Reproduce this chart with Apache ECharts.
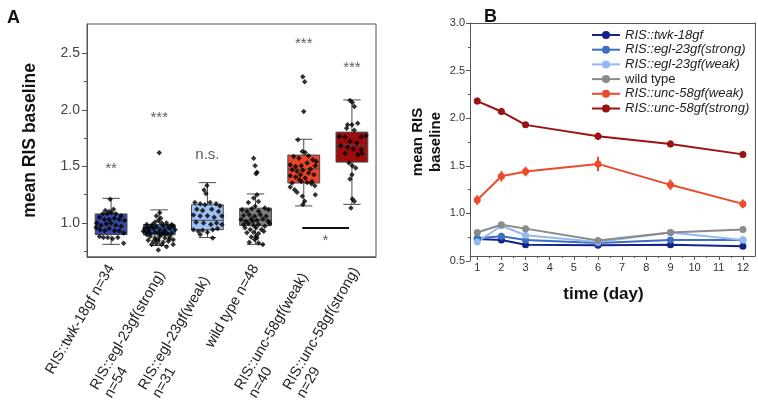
<!DOCTYPE html>
<html><head><meta charset="utf-8">
<script src="https://cdn.jsdelivr.net/npm/echarts@6/dist/echarts.min.js"></script>
<style>html,body{margin:0;padding:0;background:#fff}#c{width:758px;height:403px}</style>
</head><body><div id="c"></div>
<script>
// ---------- Panel A data ----------
const catLabels = ['RIS::twk-18gf n=34','RIS::egl-23gf(strong)\nn=54','RIS::egl-23gf(weak)\nn=31','wild type n=48','RIS::unc-58gf(weak)\nn=40','RIS::unc-58gf(strong)\nn=29'];
// [whisker low, Q1, median, Q3, whisker high]
const boxStats = [
  [0.81, 0.897, 0.97, 1.079, 1.217],
  [0.80, 0.894, 0.956, 0.985, 1.115],
  [0.87, 0.94, 1.023, 1.16, 1.356],
  [0.81, 0.976, 1.023, 1.13, 1.256],
  [1.15, 1.353, 1.477, 1.60, 1.74],
  [1.164, 1.538, 1.69, 1.803, 2.088]
];
// jittered points per group: [x offset within band, value]
const pts0 = [[-0.02,1.21],[-0.12,1.11],[-0.04,1.10],[0.05,1.12],[-0.17,1.08],[-0.08,1.08],[0.01,1.09],[0.10,1.08],[0.21,1.06],[-0.24,1.05],[-0.14,1.03],[-0.04,1.03],[0.07,1.04],[0.17,1.03],[0.28,1.02],[-0.30,1.00],[-0.21,0.98],[-0.10,0.99],[0.00,1.00],[0.10,0.98],[0.21,0.97],[-0.31,0.96],[-0.23,0.94],[-0.13,0.93],[-0.04,0.95],[0.07,0.93],[0.17,0.93],[0.26,0.91],[-0.24,0.88],[-0.16,0.87],[-0.07,0.87],[0.03,0.86],[0.14,0.87],[0.26,0.82]];
const pts1 = [[0.0,1.62],[0.01,1.09],[-0.06,1.06],[0.03,1.04],[-0.02,1.02],[-0.09,1.005],[0.05,1.0],[-0.26,0.985],[-0.16,0.97],[-0.06,0.965],[0.08,0.975],[0.19,0.965],[0.29,0.97],[-0.30,0.95],[-0.21,0.935],[-0.12,0.95],[0.01,0.94],[0.12,0.935],[0.22,0.95],[0.33,0.94],[-0.26,0.917],[-0.18,0.905],[-0.09,0.917],[-0.02,0.91],[0.08,0.917],[0.17,0.905],[0.26,0.91],[-0.19,0.88],[-0.09,0.867],[0.01,0.88],[0.12,0.867],[0.22,0.88],[0.29,0.85],[-0.23,0.846],[-0.12,0.837],[-0.02,0.846],[0.08,0.829],[0.19,0.837],[-0.16,0.808],[-0.06,0.817],[0.05,0.808],[0.29,0.808],[0.15,0.788],[-0.02,0.76],[-0.23,0.955],[-0.14,0.985],[0.15,1.0],[0.26,0.985],[-0.33,0.926],[-0.26,0.897],[0.05,0.897],[-0.06,0.852],[0.12,0.897],[0.21,0.858]];
const pts2 = [[-0.01,1.33],[-0.07,1.29],[-0.03,1.26],[-0.26,1.18],[-0.15,1.17],[-0.05,1.16],[0.055,1.18],[0.18,1.17],[0.26,1.15],[-0.22,1.12],[-0.10,1.11],[0.09,1.12],[0.23,1.10],[-0.29,1.07],[-0.15,1.06],[0.0,1.064],[0.14,1.05],[0.30,1.06],[-0.235,1.005],[-0.08,1.0],[0.07,0.985],[0.19,1.0],[0.30,0.985],[-0.29,0.94],[-0.19,0.926],[-0.10,0.935],[0.0,0.917],[0.11,0.94],[0.21,0.95],[-0.15,0.897],[0.11,0.867]];
const pts3 = [[-0.04,1.573],[-0.01,1.506],[0.03,1.447],[0.01,1.435],[0.03,1.25],[-0.04,1.22],[0.06,1.19],[-0.15,1.18],[-0.01,1.147],[-0.28,1.117],[-0.18,1.103],[-0.08,1.124],[0.06,1.103],[0.19,1.132],[0.27,1.117],[-0.25,1.065],[-0.13,1.073],[-0.02,1.059],[0.10,1.073],[0.22,1.059],[-0.30,1.029],[-0.20,1.015],[-0.09,1.035],[0.03,1.023],[0.15,1.035],[0.26,1.015],[-0.25,0.985],[-0.15,0.994],[-0.04,0.976],[0.06,0.985],[0.19,0.97],[0.29,0.994],[-0.22,0.956],[-0.11,0.941],[0.01,0.956],[0.12,0.941],[-0.18,0.912],[-0.04,0.918],[0.06,0.906],[0.17,0.926],[-0.09,0.876],[0.03,0.867],[-0.13,0.829],[0.06,0.823],[0.15,0.809],[-0.02,0.853],[0.01,0.882],[-0.06,1.015]];
const pts4 = [[-0.02,2.294],[0.02,2.25],[0.0,1.985],[-0.12,1.735],[-0.03,1.632],[0.03,1.623],[-0.21,1.588],[-0.10,1.573],[0.10,1.594],[0.19,1.559],[0.26,1.544],[-0.28,1.515],[-0.17,1.50],[-0.05,1.506],[0.07,1.53],[0.24,1.506],[-0.24,1.47],[-0.14,1.456],[-0.02,1.465],[0.14,1.476],[-0.28,1.418],[-0.17,1.406],[-0.07,1.426],[0.03,1.397],[-0.05,1.367],[0.07,1.358],[0.16,1.347],[0.23,1.329],[-0.24,1.353],[-0.28,1.318],[-0.19,1.294],[-0.14,1.27],[-0.09,1.382],[0.24,1.25],[-0.03,1.235],[0.02,1.191],[-0.02,1.162],[0.17,1.367],[0.10,1.441],[0.21,1.426]];
const pts5 = [[-0.04,2.082],[0.01,2.065],[0.05,2.029],[-0.09,1.868],[0.0,1.868],[0.12,1.882],[0.05,1.82],[-0.26,1.765],[-0.14,1.759],[0.19,1.759],[0.29,1.77],[-0.04,1.72],[0.10,1.706],[-0.23,1.682],[-0.09,1.67],[0.03,1.653],[0.19,1.647],[-0.14,1.617],[0.12,1.603],[0.21,1.617],[-0.06,1.529],[0.01,1.506],[0.08,1.485],[0.0,1.426],[-0.04,1.388],[0.01,1.212],[0.05,1.191],[-0.02,1.132],[-0.11,1.838]];
const groupPts = [pts0, pts1, pts2, pts3, pts4, pts5];
const sigText = ['**','***','n.s.','','***','***'];
const sigY = [1.48, 1.93, 1.60, null, 2.58, 2.37];
const pairBar = [[3.97, 0.955],[4.94, 0.955]];
const pairStar = [4.45, 0.845, '*'];
const yTicksA = [1.0, 1.5, 2.0, 2.5];
const yMinorA = [0.75, 1.25, 1.75, 2.25];

// ---------- Panel B data ----------
const days = [1, 2, 3, 6, 9, 12];
const seriesNames = ['RIS::twk-18gf','RIS::egl-23gf(strong)','RIS::egl-23gf(weak)','wild type','RIS::unc-58gf(weak)','RIS::unc-58gf(strong)'];
const twk18 = [0.73, 0.72, 0.67, 0.665, 0.67, 0.655];
const egl23strong = [0.74, 0.76, 0.72, 0.69, 0.72, 0.72];
const egl23weak = [0.70, 0.87, 0.77, 0.70, 0.80, 0.72];
const wildType = [0.80, 0.88, 0.84, 0.715, 0.80, 0.83];
const unc58weak = [1.14, 1.39, 1.44, 1.52, 1.30, 1.10];
const unc58strong = [2.18, 2.07, 1.93, 1.81, 1.73, 1.62];
const errTwk = [0.02, 0.02, 0.02, 0.015, 0.02, 0.02];
const errEglS = [0.02, 0.02, 0.02, 0.015, 0.02, 0.02];
const errEglW = [0.02, 0.02, 0.02, 0.015, 0.02, 0.02];
const errWt = [0.02, 0.025, 0.02, 0.02, 0.02, 0.025];
const errUncW = [0.05, 0.055, 0.05, 0.075, 0.055, 0.045];
const errUncS = [0.035, 0.03, 0.03, 0.04, 0.035, 0.03];
const xTicksB = [1,2,3,4,5,6,7,8,9,10,11,12];
const xMinorB = [1.5,2.5,3.5,4.5,5.5,6.5,7.5,8.5,9.5,10.5,11.5];
const yTicksB = [0.5, 1.0, 1.5, 2.0, 2.5, 3.0];
const yMinorB = [0.75, 1.25, 1.75, 2.25, 2.75];

// ---------- styles ----------
const boxColors = ['#3a4ba6','#3b72c4','#a0c1f6','#7f7f7f','#ea4629','#9e0c0c'];
const lineColors = ['#13238a','#3c6ec2','#93b9f3','#8a8a8a','#ec4a2b','#9c1111'];
const FONT = '"Liberation Sans", Arial, sans-serif';
const axisCol = '#555';
const CAT_FS = 14.5;

const chart = echarts.init(document.getElementById('c'), null, {renderer: 'canvas'});

const mctx = document.createElement('canvas').getContext('2d');
mctx.font = CAT_FS + 'px ' + FONT;
const maxW = Math.ceil(Math.max(...catLabels.map(s => mctx.measureText(s.split('\n')[0]).width)));

const scatterData = [];
groupPts.forEach((g, i) => g.forEach(p => scatterData.push([i + p[0], p[1]])));
const sigData = [];
sigText.forEach((t, i) => { if (sigY[i] != null) sigData.push([i, sigY[i], t]); });

function errSeries(vals, errs, color) {
  return {
    type: 'custom', xAxisIndex: 2, yAxisIndex: 2, z: 3,
    data: days.map((d, i) => [d, vals[i] - errs[i], vals[i] + errs[i]]),
    renderItem: function (params, api) {
      const p1 = api.coord([api.value(0), api.value(1)]);
      const p2 = api.coord([api.value(0), api.value(2)]);
      return {type: 'line', shape: {x1: p1[0], y1: p1[1], x2: p2[0], y2: p2[1]}, style: {stroke: color, lineWidth: 2}};
    }
  };
}

const lineVals = [twk18, egl23strong, egl23weak, wildType, unc58weak, unc58strong];
const errVals = [errTwk, errEglS, errEglW, errWt, errUncW, errUncS];

const series = [
  {
    type: 'custom', xAxisIndex: 0, yAxisIndex: 0, z: 2,
    data: boxStats.map((s, i) => [i].concat(s)),
    renderItem: function (params, api) {
      const i = api.value(0);
      const band = api.size([1, 0])[0];
      const bw = band * 0.66, cw = band * 0.36;
      const c = api.coord([i, api.value(3)]);
      const x = c[0];
      const yLo = api.coord([i, api.value(1)])[1];
      const yQ1 = api.coord([i, api.value(2)])[1];
      const yMed = c[1];
      const yQ3 = api.coord([i, api.value(4)])[1];
      const yHi = api.coord([i, api.value(5)])[1];
      const st = {stroke: '#4a4a4a', lineWidth: 1};
      return {type: 'group', children: [
        {type: 'line', shape: {x1: x, y1: yHi, x2: x, y2: yQ3}, style: st},
        {type: 'line', shape: {x1: x, y1: yQ1, x2: x, y2: yLo}, style: st},
        {type: 'line', shape: {x1: x - cw / 2, y1: yHi, x2: x + cw / 2, y2: yHi}, style: st},
        {type: 'line', shape: {x1: x - cw / 2, y1: yLo, x2: x + cw / 2, y2: yLo}, style: st},
        {type: 'rect', shape: {x: x - bw / 2, y: yQ3, width: bw, height: yQ1 - yQ3}, style: {fill: boxColors[i], stroke: '#4a4a4a', lineWidth: 1}},
        {type: 'line', shape: {x1: x - bw / 2, y1: yMed, x2: x + bw / 2, y2: yMed}, style: st}
      ]};
    }
  },
  {
    type: 'scatter', xAxisIndex: 1, yAxisIndex: 0, z: 4, symbol: 'diamond', symbolSize: 5.5,
    itemStyle: {color: '#000'}, data: scatterData, silent: true
  },
  {
    type: 'scatter', xAxisIndex: 1, yAxisIndex: 0, z: 5, symbolSize: 0, data: sigData,
    label: {show: true, position: 'inside', formatter: p => p.data[2], fontFamily: FONT, fontSize: 15, color: '#333'}
  },
  {
    type: 'line', xAxisIndex: 1, yAxisIndex: 0, z: 5, symbol: 'none', data: pairBar,
    lineStyle: {color: '#111', width: 2}
  },
  {
    type: 'scatter', xAxisIndex: 1, yAxisIndex: 0, z: 5, symbolSize: 0, data: [pairStar],
    label: {show: true, position: 'inside', formatter: p => p.data[2], fontFamily: FONT, fontSize: 15, color: '#333'}
  }
];
lineVals.forEach((v, k) => {
  series.push(errSeries(v, errVals[k], lineColors[k]));
});
lineVals.forEach((v, k) => {
  series.push({
    name: seriesNames[k], type: 'line', xAxisIndex: 2, yAxisIndex: 2, z: 4,
    data: days.map((d, i) => [d, v[i]]),
    symbol: 'circle', symbolSize: 7, showSymbol: true,
    lineStyle: {color: lineColors[k], width: 2}, itemStyle: {color: lineColors[k]}
  });
});

const option = {
  animation: false,
  textStyle: {fontFamily: FONT},
  title: [
    {text: 'A', left: 2, top: 4, textStyle: {fontSize: 18, fontWeight: 'bold', color: '#111', fontFamily: FONT}},
    {text: 'B', left: 479, top: 3, textStyle: {fontSize: 18, fontWeight: 'bold', color: '#111', fontFamily: FONT}}
  ],
  grid: [
    {left: 87, top: 24, width: 289, height: 233, show: true, borderColor: axisCol, borderWidth: 1, backgroundColor: 'transparent'},
    {left: 470, top: 23, width: 285, height: 238, show: false},
    {left: 470, top: 23, width: 285, height: 233, show: false}
  ],
  legend: {
    data: seriesNames, orient: 'vertical', left: 586, top: 23, itemWidth: 28, itemHeight: 10, itemGap: 0.7,
    formatter: n => n === 'wild type' ? '{n|' + n + '}' : '{i|' + n + '}',
    textStyle: {fontFamily: FONT, fontSize: 13, color: '#222', lineHeight: 14,
      rich: {i: {fontStyle: 'italic', fontSize: 13, fontFamily: FONT, color: '#222', lineHeight: 14},
             n: {fontSize: 13, fontFamily: FONT, color: '#222', lineHeight: 14}}}
  },
  xAxis: [
    {
      type: 'category', gridIndex: 0, data: catLabels,
      axisLine: {onZero: false, lineStyle: {color: axisCol}}, axisTick: {alignWithLabel: true, length: 5, lineStyle: {color: axisCol}},
      axisLabel: {rotate: 60, margin: 9, fontSize: CAT_FS, color: '#222', fontFamily: FONT, interval: 0,
        formatter: function (v) {
          const lines = v.split('\n');
          if (lines.length === 1) return v;
          return '{s| }\n' + lines.map(s => '{l|' + s + '}').join('\n');
        },
        rich: {
          l: {width: maxW, align: 'left', fontSize: CAT_FS, fontFamily: FONT, color: '#222', lineHeight: 16},
          s: {fontSize: 4, lineHeight: 26}
        }
      },
      splitLine: {show: false}
    },
    {type: 'value', gridIndex: 0, min: -0.5, max: 5.5, show: false},
    {
      type: 'value', gridIndex: 1, min: 0.7, max: 12.5, offset: -5,
      name: 'time (day)', nameLocation: 'middle', nameGap: 30,
      nameTextStyle: {fontSize: 17, fontWeight: 'bold', color: '#111', fontFamily: FONT, padding: [0, 18, 0, 0]},
      axisLine: {onZero: false, lineStyle: {color: axisCol}},
      axisTick: {customValues: xTicksB, length: 4, lineStyle: {color: axisCol}},
      axisLabel: {customValues: xTicksB, fontSize: 11, color: '#333', margin: 6},
      splitLine: {show: false}
    },
    {
      type: 'value', gridIndex: 1, min: 0.7, max: 12.5, position: 'bottom', offset: -5,
      axisLine: {show: false, onZero: false}, axisLabel: {show: false}, splitLine: {show: false},
      axisTick: {customValues: xMinorB, length: 2, lineStyle: {color: axisCol}}
    },
    {
      type: 'value', gridIndex: 2, min: 0.7, max: 12.5, position: 'top',
      axisLine: {show: true, onZero: false, lineStyle: {color: axisCol}}, axisTick: {show: false},
      axisLabel: {show: false}, splitLine: {show: false}
    }
  ],
  yAxis: [
    {
      type: 'value', gridIndex: 0, min: 0.7, max: 2.76,
      name: 'mean RIS baseline', nameLocation: 'middle', nameGap: 48,
      nameTextStyle: {fontSize: 17.5, fontWeight: 'bold', color: '#111', fontFamily: FONT},
      axisLine: {show: true, onZero: false, lineStyle: {color: axisCol}},
      axisTick: {show: true, customValues: yTicksA, length: 5, lineStyle: {color: axisCol}},
      axisLabel: {customValues: yTicksA, formatter: v => v.toFixed(1), fontSize: 14, color: '#444', margin: 7},
      splitLine: {show: false}
    },
    {
      type: 'value', gridIndex: 0, min: 0.7, max: 2.76, position: 'left',
      axisLine: {show: false, onZero: false}, axisLabel: {show: false}, splitLine: {show: false},
      axisTick: {show: true, customValues: yMinorA, length: 3, lineStyle: {color: axisCol}}
    },
    {
      type: 'value', gridIndex: 1, min: 0.5, max: 3.0,
      name: 'mean RIS\nbaseline', nameLocation: 'middle', nameGap: 25,
      nameTextStyle: {fontSize: 15, fontWeight: 'bold', color: '#111', fontFamily: FONT, lineHeight: 18},
      axisLine: {show: true, onZero: false, lineStyle: {color: axisCol}},
      axisTick: {show: true, customValues: yTicksB, length: 4, lineStyle: {color: axisCol}},
      axisLabel: {customValues: yTicksB, formatter: v => v.toFixed(1), fontSize: 11, color: '#333', margin: 5},
      splitLine: {show: false}
    },
    {
      type: 'value', gridIndex: 1, min: 0.5, max: 3.0, position: 'left',
      axisLine: {show: false, onZero: false}, axisLabel: {show: false}, splitLine: {show: false},
      axisTick: {show: true, customValues: yMinorB, length: 2, lineStyle: {color: axisCol}}
    },
    {
      type: 'value', gridIndex: 2, min: 0.55, max: 3.0, position: 'right',
      axisLine: {show: true, onZero: false, lineStyle: {color: axisCol}}, axisTick: {show: false},
      axisLabel: {show: false}, splitLine: {show: false}
    }
  ],
  series: series
};
chart.setOption(option);
</script></body></html>
